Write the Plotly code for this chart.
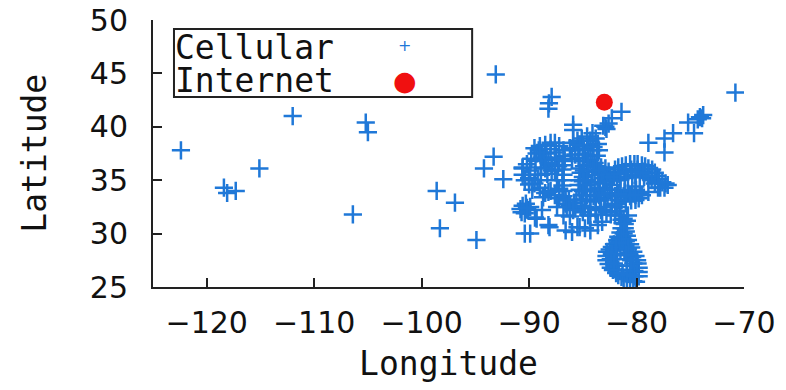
import plotly.graph_objects as go

# ---- data (longitude, latitude) ----
cell_west = [(-122.4, 37.8), (-118.4, 34.3), (-118.1, 33.8), (-117.3, 34.0), (-115.1, 36.1),
             (-112.0, 41.0), (-105.2, 40.4), (-105.0, 39.5), (-106.4, 31.8), (-98.6, 34.0),
             (-96.9, 32.9), (-98.3, 30.5), (-94.9, 29.4), (-93.1, 44.9)]
cell_midwest = [(-87.9, 42.8), (-88.15, 42.2), (-88.2, 41.7), (-85.9, 40.2), (-85.9, 39.7),
                (-93.3, 37.2), (-94.2, 36.1), (-92.4, 35.1), (-90.6, 36.1), (-89.1, 37.8),
                (-82.9, 40.0), (-83.1, 40.1), (-82.8, 39.8), (-82.6, 40.3), (-81.4, 41.4), (-82.3, 40.8)]
cell_east = [(-78.9, 38.5), (-77.4, 38.9), (-77.4, 37.6), (-76.6, 39.4), (-75.2, 40.4), (-74.65, 39.4),
             (-74.1, 40.9), (-73.8, 41.1), (-74.3, 40.7), (-73.9, 40.8), (-70.8, 43.2)]
cell_blob_a = [(-89.5, 38.0), (-89.0, 38.2), (-88.5, 38.3), (-88.0, 38.5), (-87.6, 38.5), (-87.2, 38.2),
               (-86.8, 37.8), (-86.7, 37.3), (-86.7, 36.8), (-86.8, 36.4), (-87.3, 36.3), (-87.9, 36.4),
               (-87.9, 35.9), (-88.3, 35.6), (-88.9, 35.5), (-89.45, 35.5), (-90.0, 35.2), (-90.4, 35.0),
               (-90.6, 35.5), (-90.6, 36.2), (-90.2, 36.5), (-89.8, 37.0), (-88.8, 37.1), (-88.4, 37.5),
               (-88.0, 37.9), (-89.3, 37.5), (-87.5, 37.6), (-87.2, 36.9), (-89.5, 34.7), (-90.0, 34.6),
               (-89.0, 37.6), (-88.6, 36.9), (-88.2, 36.6), (-87.6, 37.1), (-88.9, 36.2), (-89.4, 36.8),
               (-89.9, 35.9), (-88.5, 36.1), (-87.6, 35.9), (-89.2, 35.0)]
cell_blob_b = [(-86.2, 38.0), (-85.9, 38.5), (-85.5, 38.7), (-85.1, 38.9), (-84.6, 39.1), (-84.1, 39.4),
               (-83.8, 38.9), (-83.6, 38.4), (-83.5, 37.8), (-83.7, 37.3), (-84.1, 37.8), (-84.5, 38.3),
               (-85.0, 38.2), (-85.4, 37.8), (-84.8, 37.4), (-85.7, 37.4), (-86.0, 37.0), (-84.3, 36.9),
               (-83.9, 36.6), (-85.0, 36.8), (-85.3, 38.3), (-84.9, 37.9), (-84.3, 38.7), (-84.0, 38.1),
               (-85.4, 37.1), (-84.6, 36.8)]
cell_blob_c = [(-85.3, 36.1), (-84.9, 36.3), (-84.5, 36.4), (-84.1, 36.4), (-83.7, 36.3), (-83.3, 36.2),
               (-82.9, 36.1), (-82.6, 35.8), (-82.5, 35.4), (-82.4, 35.0), (-82.3, 34.55), (-82.5, 34.1),
               (-82.7, 33.6), (-83.0, 33.3), (-83.4, 33.15), (-83.8, 33.1), (-84.3, 33.0), (-84.7, 33.2),
               (-85.1, 33.6), (-85.3, 34.1), (-85.4, 34.55), (-85.3, 35.0), (-85.0, 35.3), (-85.2, 35.7),
               (-84.8, 34.55), (-84.7, 34.1), (-84.3, 34.1), (-83.9, 34.0), (-83.4, 34.3), (-83.0, 34.7),
               (-83.1, 35.2), (-84.5, 35.5), (-83.9, 35.8), (-84.6, 35.0), (-83.3, 35.6),
               (-84.9, 35.9), (-84.1, 35.9), (-83.5, 35.9), (-82.9, 35.5), (-82.8, 34.9), (-83.0, 34.2),
               (-82.9, 33.8), (-83.5, 33.6), (-84.0, 33.5), (-84.6, 33.6), (-85.0, 34.0), (-85.0, 34.9),
               (-83.6, 34.8), (-84.2, 34.6)]
cell_arm_d = [(-82.0, 36.0), (-81.7, 36.2), (-81.35, 36.3), (-81.0, 36.4), (-80.6, 36.5), (-80.2, 36.5),
              (-79.9, 36.5), (-79.5, 36.4), (-79.2, 36.3), (-78.9, 36.1), (-78.55, 36.0), (-78.3, 35.7),
              (-78.1, 35.4), (-77.9, 35.1), (-77.6, 34.8), (-77.3, 34.7), (-77.1, 34.55), (-77.4, 34.3),
              (-77.8, 34.3), (-78.3, 34.7), (-78.6, 35.0), (-78.9, 35.2), (-79.3, 35.3), (-79.7, 35.5),
              (-80.1, 35.5), (-80.4, 35.5), (-80.8, 35.3), (-81.1, 35.2), (-81.5, 35.1), (-81.8, 35.0),
              (-82.1, 35.3), (-81.6, 35.6), (-81.0, 35.8), (-80.5, 36.0), (-79.9, 36.0), (-79.4, 35.8),
              (-78.9, 35.7), (-78.6, 35.4), (-78.0, 34.8)]
cell_blob_e = [(-81.5, 34.1), (-81.1, 33.9), (-80.8, 33.8), (-80.4, 34.0), (-80.05, 34.1), (-79.7, 33.8),
               (-79.5, 33.6), (-79.8, 33.3), (-80.1, 33.15), (-80.5, 33.1), (-81.0, 33.0), (-81.4, 33.1),
               (-81.7, 33.15), (-82.0, 33.5), (-81.9, 32.8), (-78.9, 33.9), (-78.0, 34.3), (-80.1, 34.4),
               (-81.2, 33.5), (-80.6, 33.5), (-80.1, 33.6), (-81.7, 33.7)]
cell_florida = [(-81.8, 32.5), (-81.6, 32.1), (-81.5, 31.7), (-81.4, 31.3), (-81.3, 31.0), (-81.4, 30.5),
                (-81.5, 30.1), (-81.7, 29.7), (-81.8, 29.4), (-82.1, 29.0), (-82.3, 28.75), (-82.5, 28.5),
                (-82.75, 28.3), (-82.8, 27.9), (-82.8, 27.5), (-82.6, 27.15), (-82.4, 26.8), (-82.2, 26.6),
                (-81.9, 26.3), (-81.7, 26.1), (-81.4, 25.95), (-81.2, 25.85), (-80.9, 25.75), (-80.6, 25.65),
                (-80.3, 25.55), (-80.05, 25.5), (-79.8, 26.0), (-79.8, 26.4), (-79.8, 26.8), (-79.9, 27.2),
                (-79.95, 27.5), (-80.1, 27.9), (-80.3, 28.3), (-80.5, 28.7), (-80.6, 29.0), (-80.8, 29.4),
                (-80.9, 29.8), (-81.0, 30.2), (-81.1, 30.5), (-80.9, 31.2), (-80.8, 31.7), (-81.2, 28.9),
                (-81.5, 28.5), (-81.8, 28.0), (-80.6, 26.6), (-80.9, 26.2), (-82.1, 28.5), (-80.4, 27.8),
                (-81.0, 29.3), (-80.7, 28.2), (-81.9, 27.0), (-80.9, 27.0), (-81.9, 27.6),
                (-81.2, 31.4), (-81.1, 30.9), (-81.2, 30.0), (-81.4, 29.5), (-81.6, 29.1), (-81.9, 28.7),
                (-82.3, 28.1), (-82.4, 27.6), (-82.1, 27.2), (-81.7, 26.6), (-81.3, 26.3), (-80.6, 26.1),
                (-80.2, 26.5), (-80.3, 27.2), (-80.5, 27.5), (-80.8, 28.6), (-81.0, 28.0), (-80.2, 26.0)]
cell_south = [(-89.45, 31.5), (-88.2, 30.8), (-86.8, 31.7), (-85.7, 32.4), (-84.5, 31.7), (-83.2, 31.1),
              (-82.3, 32.7), (-86.0, 30.15), (-84.8, 30.5), (-83.6, 30.8), (-82.0, 31.7), (-90.8, 32.3),
              (-90.1, 32.2), (-90.4, 31.9), (-89.3, 31.4), (-88.8, 32.2), (-88.7, 33.4), (-88.1, 30.6),
              (-86.6, 30.3), (-85.3, 30.6), (-84.3, 30.3), (-84.3, 31.7), (-90.4, 30.0), (-89.9, 30.0),
              (-90.6, 32.6), (-90.3, 32.8), (-89.9, 32.5), (-90.7, 32.0),
              (-86.6, 32.8), (-86.2, 32.6), (-85.8, 32.9), (-85.2, 32.6), (-84.8, 32.5), (-84.3, 32.4),
              (-83.8, 32.3), (-83.3, 32.2), (-82.8, 32.0), (-82.4, 31.8),
              (-86.9, 36.0), (-86.8, 35.5), (-86.8, 35.0), (-86.9, 34.5), (-86.8, 34.0), (-86.8, 33.5),
              (-87.2, 33.3), (-86.6, 33.1), (-87.6, 33.6), (-88.0, 34.0), (-88.5, 33.8), (-89.0, 34.3),
              (-88.2, 33.9), (-87.4, 32.5), (-86.5, 32.5), (-86.2, 31.6), (-85.5, 30.6),
              (-86.3, 33.2), (-85.6, 33.1), (-85.9, 32.2), (-85.0, 32.0), (-83.8, 31.8), (-82.9, 32.5),
              (-90.2, 32.4), (-87.2, 34.2), (-87.4, 35.0), (-89.7, 34.1)]

internet_lon = [-83.0]
internet_lat = [42.3]

cellular = (cell_west + cell_midwest + cell_east + cell_blob_a + cell_blob_b + cell_blob_c
            + cell_arm_d + cell_blob_e + cell_florida + cell_south)
cell_lon = [p[0] for p in cellular]
cell_lat = [p[1] for p in cellular]

x_ticks = [-120, -110, -100, -90, -80, -70]
y_ticks = [25, 30, 35, 40, 45, 50]

BLUE = "#1f78d8"
RED = "#f01010"
AX = "#222222"
MONO = "DejaVu Sans Mono"
SANS = "DejaVu Sans"

fig = go.Figure()
fig.add_trace(go.Scatter(
    x=cell_lon, y=cell_lat, mode="markers", name="Cellular",
    marker=dict(symbol="cross-thin", size=13, line=dict(color=BLUE, width=2.5), color=BLUE),
    showlegend=False))
fig.add_trace(go.Scatter(
    x=internet_lon, y=internet_lat, mode="markers", name="Internet",
    marker=dict(symbol="circle", size=17, color=RED, line=dict(width=0)),
    showlegend=False))

axis_common = dict(showline=True, linecolor=AX, linewidth=2, mirror=False,
                   ticks="inside", ticklen=9, tickwidth=1.5, tickcolor=AX,
                   showgrid=False, zeroline=False, automargin=False,
                   ticklabeloverflow="allow",
                   tickfont=dict(family=SANS, size=30, color="#111"))

fig.update_xaxes(range=[-125, -70], tickvals=x_ticks, ticklabelstandoff=8,
                 title=dict(text="Longitude", font=dict(family=MONO, size=33, color="#111"), standoff=13),
                 **axis_common)
fig.update_yaxes(range=[25, 50], tickvals=y_ticks, ticklabelstandoff=17, **axis_common)

# y-axis title placed to the left of the tick labels
fig.add_annotation(text="Latitude", xref="paper", yref="paper", x=-0.201, y=0.5,
                   xanchor="center", yanchor="middle", textangle=-90, showarrow=False,
                   font=dict(family=MONO, size=33, color="#111"))

# legend box (text on left, symbol on right)
fig.add_shape(type="rect", xref="paper", yref="paper", x0=0.0355, x1=0.540, y0=0.712, y1=0.966,
              line=dict(color=AX, width=2), fillcolor="rgba(0,0,0,0)")
fig.add_annotation(text="Cellular", xref="paper", yref="paper", x=0.034, y=0.897,
                   xanchor="left", yanchor="middle", showarrow=False,
                   font=dict(family=MONO, size=33, color="#111"))
fig.add_annotation(text="Internet", xref="paper", yref="paper", x=0.034, y=0.772,
                   xanchor="left", yanchor="middle", showarrow=False,
                   font=dict(family=MONO, size=33, color="#111"))
fig.add_annotation(text="+", xref="paper", yref="paper", x=0.426, y=0.905,
                   xanchor="center", yanchor="middle", showarrow=False,
                   font=dict(family=SANS, size=16, color=BLUE))
fig.add_annotation(text="●", xref="paper", yref="paper", x=0.426, y=0.775,
                   xanchor="center", yanchor="middle", showarrow=False,
                   font=dict(family=SANS, size=27, color=RED))

fig.update_layout(width=786, height=390, margin=dict(l=153, r=42, t=20, b=103),
                  paper_bgcolor="white", plot_bgcolor="white")

# remove the default 8px page margin so the figure sits at the window's top-left corner
fig.write_html("out.html", config={"displayModeBar": False},
               post_script="document.body.style.margin='0';")
